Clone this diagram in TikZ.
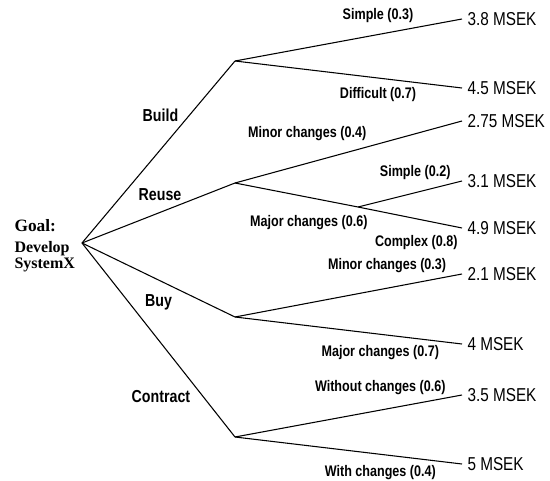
\documentclass[tikz,border=0pt]{standalone}
\usepackage{fontspec}
\setmainfont{Liberation Serif}
\newfontfamily\narrowfont[FakeStretch=0.82]{Liberation Sans}
\usetikzlibrary{positioning}

\tikzset{
  branch/.style={coordinate},
  goal/.style={anchor=north west, align=left, inner sep=0pt, font=\bfseries\fontsize{12}{12}\selectfont},
  leaf/.style={anchor=west, inner xsep=3.75pt, inner ysep=0pt, font=\narrowfont\fontsize{14}{16}\selectfont},
  choice/.style={font=\narrowfont\bfseries\fontsize{13}{15}\selectfont},
  outcome/.style={font=\narrowfont\bfseries\fontsize{11.5}{13}\selectfont},
}

\begin{document}
\begin{tikzpicture}[x=0.75pt, y=-0.75pt, line width=0.8pt]
            \useasboundingbox (0,0) rectangle (550,481);

            \node[goal] (goal) at (14,219) {{\fontsize{13}{13}\selectfont Goal:}\\[3.5pt]Develop\\SystemX};
            \node[branch] (root) at (82,243) {};

            \node[branch] (build) at (235,61) {};    %Build
            \node[branch] (reuse) at (235,183) {};   %Reuse
            \node[branch] (buy) at (235,317) {};     %Buy
            \node[branch] (contract) at (235,437) {}; %Contract
            \node[branch] (major) at (358,207) {};   %Reuse, major changes

            \node[leaf] (v38) at (462,19) {3.8 MSEK};
            \node[leaf] (v45) at (462,88) {4.5 MSEK};
            \node[leaf] (v275) at (462,121) {2.75 MSEK};
            \node[leaf] (v31) at (462,181) {3.1 MSEK};
            \node[leaf] (v49) at (462,228) {4.9 MSEK};
            \node[leaf] (v21) at (462,274) {2.1 MSEK};
            \node[leaf] (v4) at (462,344) {4 MSEK};
            \node[leaf] (v35) at (462,395) {3.5 MSEK};
            \node[leaf] (v5) at (462,464) {5 MSEK};

            \path
            (root) edge node[choice, pos=.7, left=4.4pt] (lbuild) {Build} (build)
            (root) edge node[choice, pos=.51, above=5pt] (lreuse) {Reuse} (reuse)
            (root) edge node[choice, pos=.5, below=7.5pt] (lbuy) {Buy} (buy)
            (root) edge node[choice, pos=.79, left=5.8pt] (lcontract) {Contract} (contract)

            (build) edge node[outcome, pos=.63, above=4.8pt] (l1) {Simple (0.3)} (v38.west)
            (build) edge node[outcome, pos=.63, below=3pt] (l2) {Difficult (0.7)} (v45.west)

            (reuse) edge node[outcome, pos=.6, above left] (l3) {Minor changes (0.4)} (v275.west)
            (reuse) edge node[outcome, pos=.6, below=9.5pt] (l4) {Major changes (0.6)} (major)
            (major) edge node[outcome, pos=.55, above=5.8pt] (l5) {Simple (0.2)} (v31.west)
            (major) edge node[outcome, pos=.56, below=8.5pt] (l6) {Complex (0.8)} (v49.west)

            (buy) edge node[outcome, pos=.67, above=7.7pt] (l7) {Minor changes (0.3)} (v21.west)
            (buy) edge node[outcome, pos=.64, below=4.7pt] (l8) {Major changes (0.7)} (v4.west)

            (contract) edge node[outcome, pos=.64, above=7.5pt] (l9) {Without changes (0.6)} (v35.west)
            (contract) edge node[outcome, pos=.64, below=4.7pt] (l10) {With changes (0.4)} (v5.west);

\end{tikzpicture}
\end{document}
